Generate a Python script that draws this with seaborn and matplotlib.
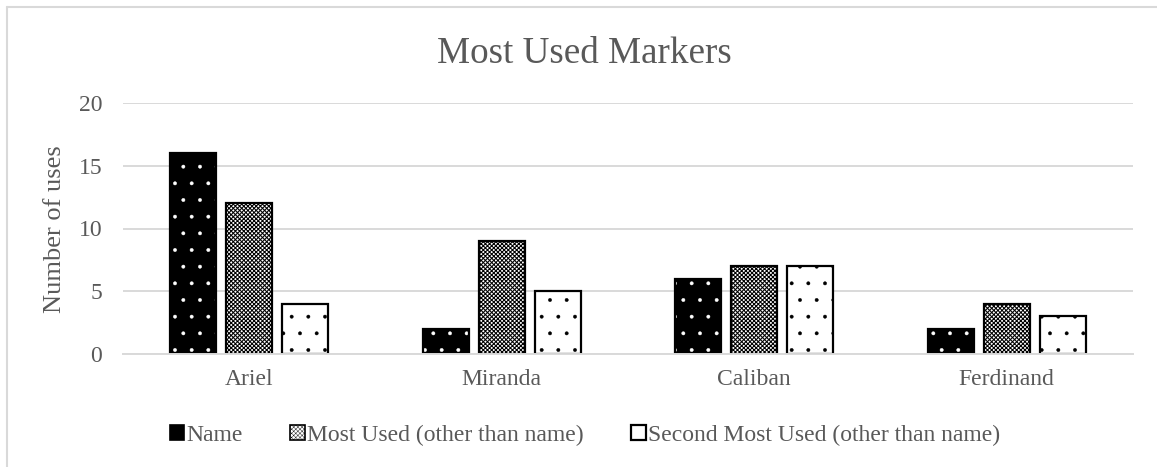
import matplotlib
matplotlib.use("Agg")
import matplotlib.pyplot as plt
import seaborn as sns
import pandas as pd
from matplotlib.patches import Patch
from matplotlib.lines import Line2D

# ---- data ----
characters = ["Ariel", "Miranda", "Caliban", "Ferdinand"]
series = ["Name", "Most Used (other than name)", "Second Most Used (other than name)"]
name_uses = [16, 2, 6, 2]
most_used = [12, 9, 7, 4]
second_most_used = [4, 5, 7, 3]
y_ticks = [0, 5, 10, 15, 20]
title = "Most Used Markers"
y_label = "Number of uses"

df = pd.DataFrame({
    "character": characters * 3,
    "series": [s for s in series for _ in characters],
    "uses": name_uses + most_used + second_most_used,
})

sns.set_theme(style="white")
plt.rcParams["font.family"] = ["Liberation Serif", "DejaVu Serif"]
plt.rcParams["hatch.linewidth"] = 0.3

TXT = "#595959"
GRID = "#d9d9d9"
W, H = 1157, 467

fig = plt.figure(figsize=(W / 100, H / 100), dpi=100)
ax = fig.add_axes([123 / W, 1 - 354 / H, 1010 / W, 251 / H])

face = {series[0]: "black", series[1]: "white", series[2]: "white"}
hatch_col = {series[0]: "white", series[1]: "black", series[2]: "black"}
hatches = {series[0]: ".", series[1]: "xxxxxxxx", series[2]: "."}
hatch_lw = {series[0]: 0.3, series[1]: 0.75, series[2]: 0.3}

sns.barplot(data=df, x="character", y="uses", hue="series", order=characters,
            hue_order=series, palette=face, width=0.665, gap=0.18, ax=ax,
            legend=False, linewidth=0, saturation=1, errorbar=None)
for s, cont in zip(series, ax.containers):
    for p in cont.patches:
        p.set_hatch(hatches[s])
        p.set_edgecolor(hatch_col[s])
        p.set_linewidth(0)
        if hasattr(p, "set_hatch_linewidth"):
            p.set_hatch_linewidth(hatch_lw[s])

sns.barplot(data=df, x="character", y="uses", hue="series", order=characters,
            hue_order=series, palette={s: "black" for s in series}, width=0.665,
            gap=0.18, ax=ax, legend=False, fill=False, linewidth=1.6,
            saturation=1, errorbar=None)

ax.set_ylim(0, 20)
ax.set_yticks(y_ticks)
ax.set_xlim(-0.5, 3.5)
ax.set_xlabel("")
ax.set_ylabel("")
ax.yaxis.grid(True, color=GRID, linewidth=1.4)
ax.xaxis.grid(False)
ax.set_axisbelow(True)
for side in ["left", "right", "top"]:
    ax.spines[side].set_visible(False)
ax.spines["bottom"].set_color(GRID)
ax.spines["bottom"].set_linewidth(1.4)
ax.tick_params(axis="y", length=0, pad=15, labelsize=17, labelcolor=TXT)
ax.tick_params(axis="x", length=0, pad=11, labelsize=17, labelcolor=TXT)

fig.text(584 / W, 1 - 63 / H, title, ha="center", va="baseline",
         fontsize=26.7, color=TXT)
fig.text(55 / W, 1 - 229 / H, y_label, ha="center", va="center",
         rotation=90, fontsize=19, color=TXT)

handles = [
    Patch(facecolor="black", edgecolor="black", linewidth=1.2),
    Patch(facecolor="white", edgecolor="black", hatch="xxxxxxxx", linewidth=1.2),
    Patch(facecolor="white", edgecolor="black", linewidth=1.6),
]
if hasattr(handles[1], "set_hatch_linewidth"):
    handles[1].set_hatch_linewidth(0.75)
fig.legend(handles, series, loc="center", bbox_to_anchor=(585 / W, 1 - 435 / H),
           ncol=3, frameon=False, fontsize=17, handlelength=0.62,
           handleheight=0.62, handletextpad=0.1, columnspacing=2.0,
           labelcolor=TXT)

fig.add_artist(Line2D([7 / W, 7 / W], [0, 1 - 7 / H], transform=fig.transFigure,
                      color=GRID, linewidth=1.5))
fig.add_artist(Line2D([7 / W, 1], [1 - 7 / H, 1 - 7 / H], transform=fig.transFigure,
                      color=GRID, linewidth=1.5))

fig.savefig("out.png", dpi=100)
